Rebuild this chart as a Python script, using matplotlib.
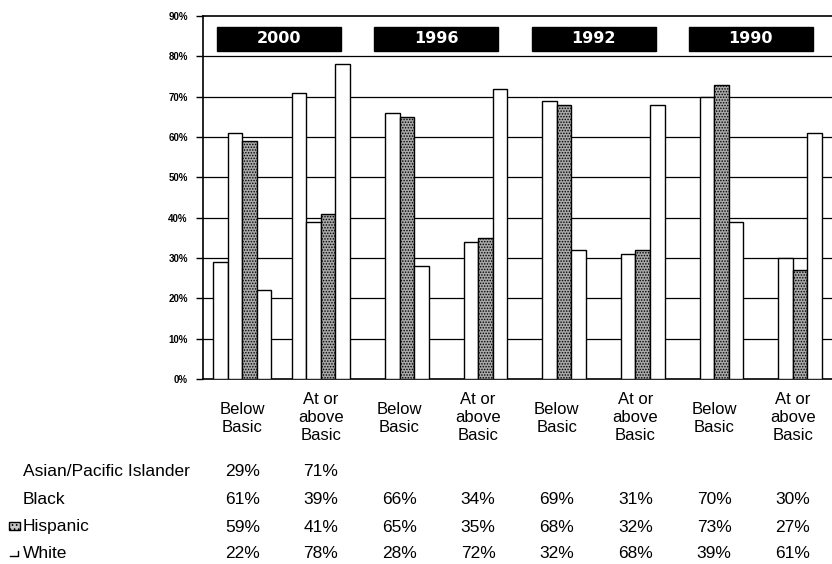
import numpy as np
import matplotlib.pyplot as plt
from matplotlib.patches import Rectangle
from matplotlib.transforms import blended_transform_factory

plt.rcParams['font.family'] = ['Liberation Sans', 'DejaVu Sans']
plt.rcParams['hatch.linewidth'] = 0.7

# ----- Data -----
categories = ["Below\nBasic", "At or\nabove\nBasic"] * 4
years = ["2000", "1996", "1992", "1990"]
groups = ["Asian/Pacific Islander", "Black", "Hispanic", "White"]
asian = [29, 71, None, None, None, None, None, None]
black = [61, 39, 66, 34, 69, 31, 70, 30]
hispanic = [59, 41, 65, 35, 68, 32, 73, 27]
white = [22, 78, 28, 72, 32, 68, 39, 61]
series = [asian, black, hispanic, white]

# ----- Figure -----
W, H = 832, 564
fig = plt.figure(figsize=(W / 100, H / 100), dpi=100)
ax = fig.add_axes([203 / W, 1 - 379 / H, 629 / W, (379 - 16) / H])

x = np.arange(len(categories))
bw = 0.185
for j, vals in enumerate(series):
    xs = [xi + (j - 1.5) * bw for xi, v in zip(x, vals) if v is not None]
    hs = [v for v in vals if v is not None]
    if j == 2:
        ax.bar(xs, hs, bw, facecolor='#a8a8a8', edgecolor='black', hatch='......',
               linewidth=1.0, zorder=3)
    else:
        ax.bar(xs, hs, bw, facecolor='white', edgecolor='black', linewidth=1.0, zorder=3)

ax.set_xlim(-0.5, len(categories) - 0.5)
ax.set_ylim(0, 90)
ax.set_yticks(range(0, 100, 10))
ax.set_yticklabels([f"{v}%" for v in range(0, 100, 10)], fontsize=7, fontweight='bold')
ax.tick_params(axis='y', direction='out', length=5, width=1, pad=6)
ax.set_xticks([])
for v in range(10, 90, 10):
    ax.axhline(v, color='black', linewidth=0.9, zorder=1)
ax.spines['right'].set_visible(False)
for s in ['left', 'bottom', 'top']:
    ax.spines[s].set_linewidth(1.2)

# ----- Year boxes -----
for g, yr in enumerate(years):
    ax.add_patch(Rectangle((2 * g - 0.32, 81.3), 1.576, 6.0, facecolor='black',
                           edgecolor='black', zorder=4, clip_on=False))
    ax.text(2 * g + 0.468, 84.3, yr, color='white', fontsize=11.5, fontweight='bold',
            family='DejaVu Sans', ha='center', va='center', zorder=5)

# ----- Category labels & data table -----
tr = blended_transform_factory(ax.transData, fig.transFigure)
for xi, lab in zip(x, categories):
    ax.text(xi, 1 - 418 / H, lab, transform=tr, ha='center', va='center',
            fontsize=12, linespacing=1.25)

row_y = [472, 499, 527, 554]
for name, vals, yp in zip(groups, series, row_y):
    fig.text(23 / W, 1 - yp / H, name, ha='left', va='center', fontsize=12.5)
    for xi, v in zip(x, vals):
        if v is not None:
            ax.text(xi, 1 - yp / H, f"{v}%", transform=tr, ha='center', va='center',
                    fontsize=12.5)

# legend key remnants
fig.add_artist(Rectangle((9 / W, 1 - 530 / H), 11 / W, 8 / H, facecolor='#c8c8c8',
                         edgecolor='black', linewidth=1.0, hatch='....',
                         transform=fig.transFigure))
fig.add_artist(plt.Line2D([10 / W, 18 / W, 18 / W],
                          [1 - 556 / H, 1 - 556 / H, 1 - 551 / H],
                          color='black', linewidth=1.0, transform=fig.transFigure))

fig.savefig("out.png", dpi=100)
